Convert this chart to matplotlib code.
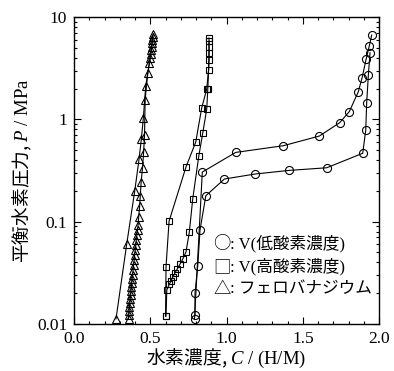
import matplotlib
matplotlib.use('Agg')
import matplotlib.pyplot as plt
from matplotlib.ticker import MultipleLocator, LogLocator, NullFormatter, FixedFormatter, FixedLocator

plt.rcParams['font.family'] = ['Liberation Serif', 'Noto Sans CJK JP']
plt.rcParams['mathtext.fontset'] = 'custom'
plt.rcParams['mathtext.rm'] = 'Liberation Serif'
plt.rcParams['mathtext.it'] = 'Liberation Serif:italic'

# V (low oxygen) - two runs
circ_c_a = [0.790, 0.841, 1.060, 1.372, 1.609, 1.742, 1.805, 1.864, 1.889, 1.915, 1.936, 1.952]
circ_p_a = [0.0112, 0.305, 0.475, 0.552, 0.687, 0.927, 1.19, 1.86, 2.55, 3.86, 5.21, 6.67]
circ_c_b = [0.793, 0.793, 0.811, 0.826, 0.864, 0.986, 1.187, 1.412, 1.657, 1.893, 1.913, 1.919, 1.930, 1.941]
circ_p_b = [0.0122, 0.0199, 0.0368, 0.0828, 0.179, 0.261, 0.292, 0.317, 0.336, 0.466, 0.786, 1.45, 2.71, 4.48]

# V (high oxygen) - two runs
sq_c_a = [0.600, 0.603, 0.623, 0.734, 0.798, 0.837, 0.870, 0.882, 0.885, 0.885, 0.885]
sq_p_a = [0.0119, 0.036, 0.101, 0.342, 0.600, 1.29, 1.98, 3.03, 4.45, 5.09, 5.82]
sq_c_b = [0.603, 0.608, 0.625, 0.636, 0.647, 0.662, 0.677, 0.695, 0.713, 0.734, 0.756,
          0.778, 0.818, 0.844, 0.870, 0.877, 0.885, 0.885]
sq_p_b = [0.0119, 0.0214, 0.0245, 0.0262, 0.0287, 0.0315, 0.0345, 0.0385, 0.0431, 0.0505, 0.0791,
          0.166, 0.438, 0.735, 1.26, 1.98, 3.80, 6.24]

# ferrovanadium - two runs
tri_c_a = [0.275, 0.345, 0.398, 0.426, 0.441, 0.454, 0.470, 0.494, 0.506, 0.511, 0.517]
tri_p_a = [0.0112, 0.060, 0.200, 0.406, 0.637, 1.02, 2.12, 3.53, 4.76, 5.53, 6.34]
tri_c_b = [0.357, 0.359, 0.361, 0.363, 0.366, 0.368, 0.371, 0.373, 0.376, 0.378, 0.381,
           0.384, 0.387, 0.390, 0.394, 0.397, 0.401, 0.405, 0.408, 0.412, 0.416, 0.420,
           0.424, 0.430, 0.434, 0.440, 0.449, 0.456, 0.462, 0.466, 0.483, 0.498, 0.503,
           0.510, 0.513, 0.520]
tri_p_b = [0.0112, 0.0122, 0.0134, 0.0146, 0.0160, 0.0175, 0.0192, 0.0210, 0.0230, 0.0251, 0.0275,
           0.0301, 0.0337, 0.0377, 0.0422, 0.0472, 0.0528, 0.0591, 0.0661, 0.0740, 0.0828, 0.0927,
           0.112, 0.142, 0.178, 0.245, 0.337, 0.475, 0.703, 1.55, 2.82, 3.95, 4.31,
           5.13, 5.96, 6.82]

x_ticks = [0.0, 0.5, 1.0, 1.5, 2.0]
x_tick_labels = ['0.0', '0.5', '1.0', '1.5', '2.0']
y_ticks = [0.01, 0.1, 1, 10]
y_tick_labels = ['0.01', '0.1', '1', '10']
legend_rows = [('○', ': V(低酸素濃度)'), ('□', ': V(高酸素濃度)'), ('△', ': フェロバナジウム')]

fig = plt.figure(figsize=(3.94, 3.71), dpi=100)
ax = fig.add_axes([0.188, 0.127, 0.774, 0.827])

style = dict(color='black', lw=0.8, mfc='none', mec='black', mew=0.8)
for c, p in [(circ_c_a, circ_p_a), (circ_c_b, circ_p_b)]:
    ax.plot(c, p, marker='o', ms=5.8, **style)
for c, p in [(sq_c_a, sq_p_a), (sq_c_b, sq_p_b)]:
    ax.plot(c, p, marker='s', ms=5.0, **style)
for c, p in [(tri_c_a, tri_p_a), (tri_c_b, tri_p_b)]:
    ax.plot(c, p, marker='^', ms=5.8, **style)

ax.set_yscale('log')
ax.set_xlim(0, 2.0)
ax.set_ylim(0.01, 10)

ax.xaxis.set_major_locator(FixedLocator(x_ticks))
ax.xaxis.set_major_formatter(FixedFormatter(x_tick_labels))
ax.xaxis.set_minor_locator(MultipleLocator(0.1))
ax.yaxis.set_major_locator(FixedLocator(y_ticks))
ax.yaxis.set_major_formatter(FixedFormatter(y_tick_labels))
ax.yaxis.set_minor_locator(LogLocator(base=10, subs=range(2, 10)))
ax.yaxis.set_minor_formatter(NullFormatter())

ax.tick_params(which='both', direction='in', top=True, right=True, labelsize=12.5,
               colors='black', width=0.8)
ax.tick_params(which='major', length=5, pad=5)
ax.tick_params(which='minor', length=2.5)
for s in ax.spines.values():
    s.set_linewidth(1.0)

# Japanese part in the CJK font, symbols and units in the serif math font
ax.set_xlabel(r'水素濃度, $C\ /\ \mathrm{(H/M)}$', fontsize=13.5,
              family=['Noto Sans CJK JP'], labelpad=0)
ax.set_ylabel(r'平衡水素圧力, $P\ /\ \mathrm{MPa}$', fontsize=13.5,
              family=['Noto Sans CJK JP'], labelpad=2)

ys = [0.261, 0.186, 0.114]
for (sym, txt), y in zip(legend_rows, ys):
    ax.text(0.456, y, sym, transform=ax.transAxes, fontsize=12.5, va='center',
            family=['Noto Sans CJK JP'])
    ax.text(0.510, y, txt, transform=ax.transAxes, fontsize=12, va='center')

fig.savefig('out.png', dpi=100)
